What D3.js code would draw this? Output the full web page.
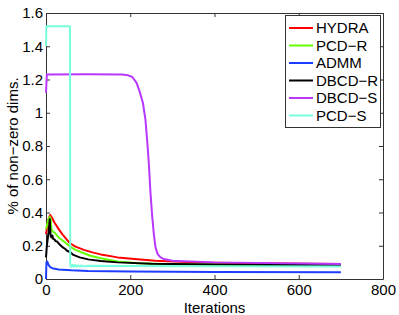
<!DOCTYPE html>
<html>
<head>
<meta charset="utf-8">
<script src="https://cdn.jsdelivr.net/npm/d3@7"></script>
<style>
  body { margin: 0; background: #fff; }
  text { font-family: "Liberation Sans", Arial, sans-serif; fill: #000; }
</style>
</head>
<body>
<div id="container"></div>
<script>
// series names and colours, in legend order
const names = ["HYDRA", "PCD\u2212R", "ADMM", "DBCD\u2212R", "DBCD\u2212S", "PCD\u2212S"];
const colors = ["#ff0000", "#66ff00", "#1f3dff", "#000000", "#b938ff", "#78ffdc"];

// [iteration, % of non-zero dims]
const hydra = [[0,0.27],[3,0.32],[6,0.36],[10,0.385],[14,0.37],[20,0.34],[30,0.3],[40,0.265],[50,0.235],[57,0.215],[70,0.195],[90,0.175],[110,0.16],[130,0.148],[170,0.13],[210,0.12],[260,0.11],[350,0.1],[500,0.095],[700,0.09]];
const pcdR = [[0,0.3],[3,0.33],[6,0.36],[9,0.375],[11,0.36],[13,0.3],[16,0.285],[20,0.28],[25,0.265],[30,0.25],[40,0.23],[50,0.21],[57,0.195],[70,0.175],[90,0.155],[105,0.14],[130,0.125],[170,0.105],[220,0.095],[300,0.088],[450,0.084],[700,0.082]];
const admm = [[0,0],[1,0.1],[3,0.105],[6,0.085],[10,0.072],[15,0.065],[30,0.057],[60,0.052],[100,0.048],[200,0.045],[400,0.042],[700,0.04]];
const dbcdR = [[0,0.13],[2,0.2],[4,0.24],[6,0.28],[8,0.33],[9,0.36],[10,0.3],[11,0.26],[13,0.25],[15,0.262],[17,0.242],[20,0.238],[23,0.228],[26,0.226],[30,0.214],[35,0.202],[40,0.19],[45,0.182],[50,0.17],[57,0.162],[65,0.145],[80,0.13],[100,0.118],[130,0.108],[170,0.1],[250,0.092],[400,0.087],[700,0.083]];
const dbcdS = [[0,1.12],[2,1.23],[100,1.232],[180,1.23],[195,1.225],[205,1.215],[215,1.18],[222,1.13],[230,1.06],[236,0.96],[240,0.84],[244,0.7],[248,0.52],[252,0.38],[256,0.27],[260,0.19],[265,0.15],[272,0.13],[280,0.12],[300,0.11],[400,0.1],[700,0.09]];
const pcdS = [[0,1.4],[1,1.52],[57,1.52],[57.5,0.085],[60,0.074],[63,0.086],[66,0.074],[69,0.085],[72,0.074],[76,0.083],[80,0.075],[85,0.082],[90,0.076],[100,0.08],[200,0.078],[400,0.076],[700,0.075]];

const series = [hydra, pcdR, admm, dbcdR, dbcdS, pcdS];

const xTicks = [0, 200, 400, 600, 800];
const yTicks = [0, 0.2, 0.4, 0.6, 0.8, 1, 1.2, 1.4, 1.6];

const width = 399;
const height = 315;
const margin = {top: 13, right: 16, bottom: 36, left: 46};

const x = d3.scaleLinear().domain([0, 800]).range([margin.left, width - margin.right]);
const y = d3.scaleLinear().domain([0, 1.6]).range([height - margin.bottom, margin.top]);

const svg = d3.create("svg")
    .attr("width", width)
    .attr("height", height)
    .attr("viewBox", [0, 0, width, height]);

const fmt = d => d3.format("~g")(d);

// axes with inward ticks on all four sides (box)
svg.append("g")
    .attr("transform", `translate(0,${height - margin.bottom})`)
    .call(d3.axisBottom(x).tickValues(xTicks).tickSizeInner(-4).tickSizeOuter(0).tickPadding(5).tickFormat(fmt))
    .call(g => g.selectAll("text").attr("font-size", 15));

svg.append("g")
    .attr("transform", `translate(${margin.left},0)`)
    .call(d3.axisLeft(y).tickValues(yTicks).tickSizeInner(-4).tickSizeOuter(0).tickPadding(3).tickFormat(fmt))
    .call(g => g.selectAll("text").attr("font-size", 15));

svg.append("g")
    .attr("transform", `translate(0,${margin.top})`)
    .call(d3.axisTop(x).tickValues(xTicks).tickSizeInner(-4).tickSizeOuter(0).tickFormat(""));

svg.append("g")
    .attr("transform", `translate(${width - margin.right},0)`)
    .call(d3.axisRight(y).tickValues(yTicks).tickSizeInner(-4).tickSizeOuter(0).tickFormat(""));

svg.selectAll(".domain, .tick line").attr("stroke", "#333");
svg.selectAll(".tick text").attr("fill", "#000").attr("font-family", "Liberation Sans, Arial, sans-serif");

const line = d3.line().x(d => x(d[0])).y(d => y(d[1]));

svg.append("g")
    .attr("fill", "none")
    .attr("stroke-width", 2)
    .attr("stroke-linejoin", "round")
    .selectAll("path")
    .data(series)
    .join("path")
    .attr("stroke", (d, i) => colors[i])
    .attr("d", line);

// legend
const lx = 285, ly = 15, lw = 95, lh = 112, row = 17.5;
const legend = svg.append("g");
legend.append("rect")
    .attr("x", lx + 0.5).attr("y", ly + 0.5)
    .attr("width", lw).attr("height", lh)
    .attr("fill", "#fff").attr("stroke", "#333");
names.forEach((n, i) => {
    const cy = ly + 13 + i * row;
    legend.append("line")
        .attr("x1", lx + 4).attr("x2", lx + 28)
        .attr("y1", cy).attr("y2", cy)
        .attr("stroke", colors[i]).attr("stroke-width", 2);
    legend.append("text")
        .attr("x", lx + 31).attr("y", cy)
        .attr("dy", "0.36em")
        .attr("font-size", 15)
        .text(n);
});

// axis titles
svg.append("text")
    .attr("x", (margin.left + width - margin.right) / 2)
    .attr("y", 313)
    .attr("text-anchor", "middle")
    .attr("font-size", 15)
    .text("Iterations");

svg.append("text")
    .attr("transform", `translate(18,${(margin.top + height - margin.bottom) / 2}) rotate(-90)`)
    .attr("text-anchor", "middle")
    .attr("font-size", 15)
    .text("% of non\u2212zero dims.");

d3.select("#container").append(() => svg.node());
</script>
</body>
</html>
